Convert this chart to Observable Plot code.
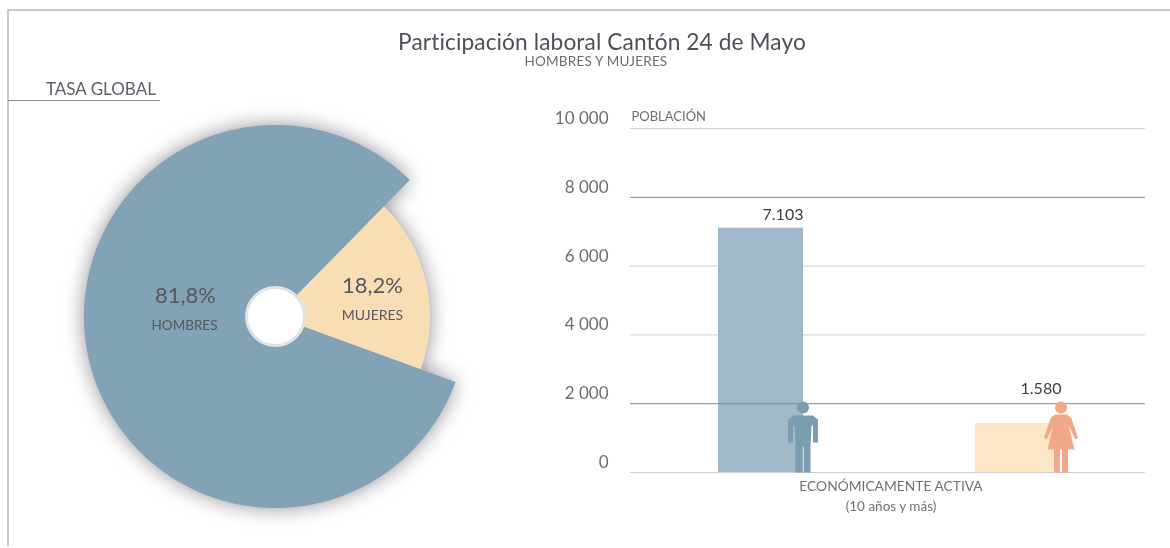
<!DOCTYPE html>
<html lang="es">
<head>
<meta charset="utf-8">
<script src="https://cdn.jsdelivr.net/npm/d3@7"></script>
<script src="https://cdn.jsdelivr.net/npm/@observablehq/plot@0.6"></script>
<style>
  html, body { margin: 0; padding: 0; background: #fff; }
  #page { position: relative; width: 1170px; height: 548px; overflow: hidden; background: #fff;
          font-family: Lato, "Open Sans", sans-serif; color: #55585f; }
  #frame { position: absolute; left: 7px; top: 9px; width: 1163px; height: 537px;
           border-top: 2px solid #c9c9cc; border-left: 2px solid #c9c9cc; box-sizing: border-box; }
  .t { position: absolute; white-space: nowrap; filter: blur(.35px); }
  #title { left: 202px; width: 800px; top: 28px; text-align: center; font-size: 22.7px; line-height: 28px; color: #4d5058; letter-spacing: .1px; }
  #subtitle { left: 196px; width: 800px; top: 53px; text-align: center; font-size: 13.5px; line-height: 16px; color: #6a6d74; letter-spacing: .2px; }
  #tasa { left: 8px; top: 79px; width: 152px; height: 22px; border-bottom: 1px solid #8a8a90; box-sizing: border-box;
          padding-left: 38px; font-size: 17px; line-height: 20px; color: #5c5f66; }
  #pie, #bars { position: absolute; top: 100px; filter: blur(.35px); }
  #pie { left: 0; } #bars { left: 540px; }
  svg { display: block; overflow: visible; background: transparent; }
</style>
</head>
<body>
<div id="page">
  <div id="frame"></div>
  <div class="t" id="title">Participación laboral Cantón 24 de Mayo</div>
  <div class="t" id="subtitle">HOMBRES Y MUJERES</div>
  <div class="t" id="tasa">TASA GLOBAL</div>
  <div id="pie"></div>
  <div id="bars"></div>
</div>
<script>
// --- data ---
const sliceNames = ["MUJERES", "HOMBRES"];
const sliceShares = [18.2, 81.8];
const sliceLabels = ["18,2%", "81,8%"];
const barCategories = ["Hombres", "Mujeres"];
const barHeights = [7103, 1425];        // the Mujeres bar is drawn shorter than its printed label
const barLabels = ["7.103", "1.580"];
const yTicks = [0, 2000, 4000, 6000, 8000, 10000];
const strongTicks = [2000, 8000];
const axisCaption = ["ECONÓMICAMENTE ACTIVA", "(10 años y más)"];

// --- style / layout (not data) ---
const sliceColors = ["#f9deb5", "#82a2b5"];
const barColors = ["#a0b9c9", "#fde6c6"];
const ink = "#55585f";
const font = "Lato, 'Open Sans', sans-serif";

// --- pie: polar slices projected through Plot's x/y scales (units = pixels from the hub) ---
const radii = {MUJERES: 154.5, HOMBRES: 191.5};
const start = 44.5 * Math.PI / 180;
const arcs = d3.pie().sort(null).value(d => d.share).startAngle(start).endAngle(start + 2 * Math.PI)(
  sliceNames.map((name, i) => ({name, share: sliceShares[i]})));
const outline = arcs.flatMap(a => {
  const r = radii[a.data.name], n = Math.ceil((a.endAngle - a.startAngle) * 40), pts = [{name: a.data.name, x: 0, y: 0}];
  for (let k = 0; k <= n; ++k) {
    const t = a.startAngle + (a.endAngle - a.startAngle) * k / n;
    pts.push({name: a.data.name, x: r * Math.sin(t), y: r * Math.cos(t)});
  }
  return pts;
});
const pieText = [
  {s: sliceLabels[1], x: -90, y: 21, size: 22},
  {s: sliceNames[1], x: -91, y: -9, size: 13.5},
  {s: sliceLabels[0], x: 97, y: 31, size: 22},
  {s: sliceNames[0], x: 97, y: 1, size: 14}
];
document.getElementById("pie").append(Plot.plot({
  width: 550, height: 430, margin: 0, axis: null,
  x: {domain: [-275, 275], range: [0, 550]},
  y: {domain: [-214, 216], range: [430, 0]},
  color: {domain: sliceNames, range: sliceColors},
  style: {background: "transparent"},
  marks: [
    Plot.line(outline, {x: "x", y: "y", z: "name", fill: "name", stroke: null, curve: "linear-closed",
                        imageFilter: "drop-shadow(0 0 10px rgba(80,75,85,.62))"}),
    Plot.dot([0], {x: 0, y: 0, r: 29, fill: "#fff", stroke: "#e2e2e4", strokeWidth: 3}),
    ...pieText.map(d => Plot.text([d.s], {x: () => d.x, y: () => d.y, text: x => x, fontSize: d.size, fill: ink, fontFamily: font}))
  ]
}));

// --- person pictograms as Plot.dot custom symbols (local shape units, origin at the feet) ---
const man = {draw(c) {
  c.moveTo(6, -65); c.arc(0, -65, 6, 0, 2 * Math.PI);
  c.moveTo(-10, -57); c.lineTo(10, -57); c.lineTo(15, -53); c.lineTo(15, -30); c.lineTo(10, -30); c.lineTo(10, -47);
  c.lineTo(8.5, -47); c.lineTo(7.5, -26); c.lineTo(7.5, 0); c.lineTo(.6, 0); c.lineTo(.6, -26); c.lineTo(-.6, -26); c.lineTo(-.6, 0);
  c.lineTo(-7.5, 0); c.lineTo(-7.5, -26); c.lineTo(-8.5, -47); c.lineTo(-10, -47); c.lineTo(-10, -30); c.lineTo(-15, -30); c.lineTo(-15, -53); c.closePath();
}};
const woman = {draw(c) {
  c.moveTo(6, -65); c.arc(0, -65, 6, 0, 2 * Math.PI);
  c.moveTo(-6, -58); c.lineTo(6, -58); c.lineTo(10, -55); c.lineTo(17, -35); c.lineTo(14.5, -33); c.lineTo(8, -46);
  c.lineTo(13.5, -23); c.lineTo(7, -23); c.lineTo(7, 0); c.lineTo(1, 0); c.lineTo(1, -23); c.lineTo(-1, -23); c.lineTo(-1, 0);
  c.lineTo(-7, 0); c.lineTo(-7, -23); c.lineTo(-13.5, -23); c.lineTo(-8, -46); c.lineTo(-14.5, -33); c.lineTo(-17, -35); c.lineTo(-10, -55); c.closePath();
}};
const bars = barCategories.map((cat, i) => ({cat, h: barHeights[i], label: barLabels[i]}));

document.getElementById("bars").append(Plot.plot({
  width: 630, height: 448, marginLeft: 90, marginRight: 25, marginTop: 28, marginBottom: 76,
  x: {domain: barCategories, range: [90, 607], paddingInner: 0.67, paddingOuter: 0.337, axis: null},
  y: {domain: [0, 10000], axis: null},
  color: {domain: barCategories, range: barColors},
  style: {background: "transparent"},
  marks: [
    Plot.ruleY(yTicks.filter(t => !strongTicks.includes(t)), {stroke: "#cfcfd4", strokeWidth: 1}),
    Plot.barY(bars, {x: "cat", y: "h", fill: "cat"}),
    Plot.ruleY(strongTicks, {stroke: "#86868d", strokeWidth: 1}),
    Plot.axisY({ticks: yTicks, tickSize: 0, tickPadding: 22, label: null, fontSize: 17, color: "#6a6d73", dy: -10,
                fontFamily: font, tickFormat: d => d3.format(",")(d).replace(",", " ")}),
    Plot.dot(bars.slice(0, 1), {x: "cat", y: () => 0, dx: 42, symbol: man, r: 5, fill: "#7a9db1"}),
    Plot.dot(bars.slice(1), {x: "cat", y: () => 0, dx: 43, symbol: woman, r: 5, fill: "#efa888"}),
    Plot.text(bars.slice(0, 1), {x: "cat", y: "h", text: "label", dy: -13, dx: 22, fontSize: 16, fill: "#3c3c40", fontFamily: font}),
    Plot.text(bars.slice(1), {x: "cat", y: "h", text: "label", dy: -35, dx: 23, fontSize: 16, fill: "#3c3c40", fontFamily: font}),
    Plot.text(["POBLACIÓN"], {frameAnchor: "top-left", dy: -17, dx: 1, fontSize: 13, fill: "#6a6d73", fontFamily: font}),
    Plot.text([axisCaption[0]], {frameAnchor: "bottom", dx: 3, dy: 18, fontSize: 13.8, fill: "#6f7278", fontFamily: font}),
    Plot.text([axisCaption[1]], {frameAnchor: "bottom", dx: 3, dy: 38, fontSize: 13.5, fill: "#6f7278", fontFamily: font})
  ]
}));
</script>
</body>
</html>
